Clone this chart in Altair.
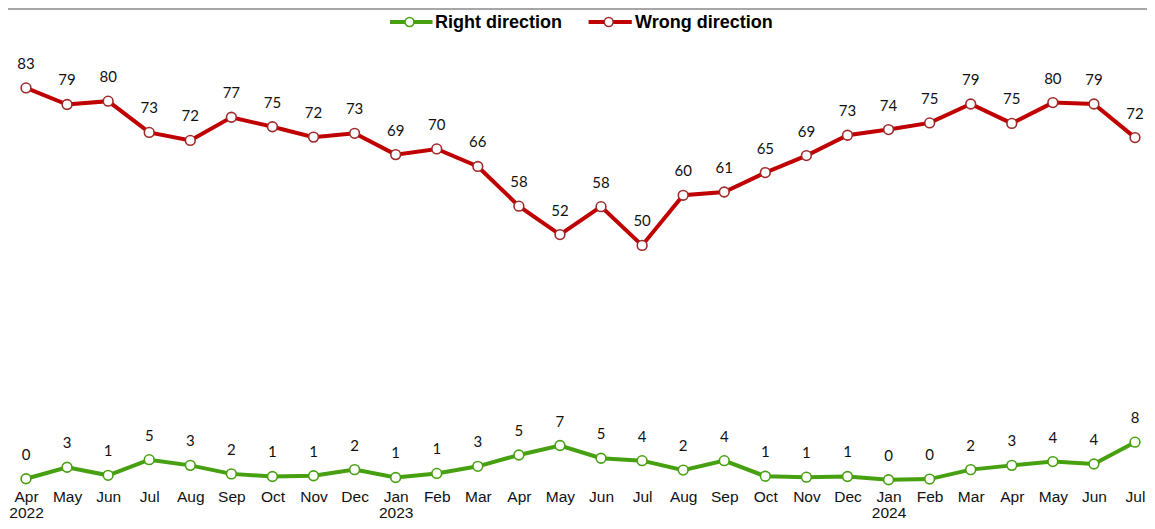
import json
import altair as alt
import pandas as pd

months = ["Apr", "May", "Jun", "Jul", "Aug", "Sep", "Oct", "Nov", "Dec",
          "Jan", "Feb", "Mar", "Apr", "May", "Jun", "Jul", "Aug", "Sep", "Oct", "Nov", "Dec",
          "Jan", "Feb", "Mar", "Apr", "May", "Jun", "Jul"]
years = ["2022", "", "", "", "", "", "", "", "",
         "2023", "", "", "", "", "", "", "", "", "", "", "",
         "2024", "", "", "", "", "", ""]

series_names = ["Right direction", "Wrong direction"]
series_colors = ["#47A010", "#C00000"]
marker_strokes = ["#47A010", "#9E2A2A"]

right = [0.47, 2.9, 1.2, 4.5, 3.3, 1.5, 0.95, 1.1, 2.4, 0.74, 1.6, 3.1, 5.5, 7.5,
         4.8, 4.3, 2.3, 4.3, 1.0, 0.8, 0.95, 0.25, 0.4, 2.4, 3.3, 4.1, 3.6, 8.2]
right_labels = [0, 3, 1, 5, 3, 2, 1, 1, 2, 1, 1, 3, 5, 7,
                5, 4, 2, 4, 1, 1, 1, 0, 0, 2, 3, 4, 4, 8]
wrong = [83.1, 79.6, 80.3, 73.7, 72.0, 76.9, 74.9, 72.7, 73.5, 69.0, 70.2, 66.5, 58.1, 52.1,
         58.0, 49.8, 60.4, 61.1, 65.2, 68.8, 73.1, 74.3, 75.7, 79.7, 75.6, 80.0, 79.7, 72.6]
wrong_labels = [83, 79, 80, 73, 72, 77, 75, 72, 73, 69, 70, 66, 58, 52,
                58, 50, 60, 61, 65, 69, 73, 74, 75, 79, 75, 80, 79, 72]

rows = []
for name, vals, labs in [(series_names[0], right, right_labels),
                         (series_names[1], wrong, wrong_labels)]:
    for i, (v, l) in enumerate(zip(vals, labs)):
        rows.append({"idx": i, "series": name, "value": v, "label": str(l)})
df = pd.DataFrame(rows)

W, H = 1139, 484

label_expr = f"[{json.dumps(months)}[datum.value], {json.dumps(years)}[datum.value]]"

x_enc = alt.X(
    "idx:Q",
    scale=alt.Scale(domain=[-0.4382, 27.292], nice=False, zero=False),
    axis=alt.Axis(
        values=list(range(len(months))), labelExpr=label_expr, title=None,
        grid=False, domain=False, ticks=False, labelFont="Liberation Sans",
        labelFontSize=15.5, labelColor="#111111", labelPadding=-3, labelBaseline="top",
        labelLineHeight=16, labelOverlap=False, labelFlush=False, labelBound=False,
        labelAlign="center",
    ),
)
y_enc = alt.Y("value:Q", scale=alt.Scale(domain=[-2.33, 100], nice=False, zero=False), axis=None)
color_enc = alt.Color("series:N", scale=alt.Scale(domain=series_names, range=series_colors), legend=None)
stroke_enc = alt.Stroke("series:N", scale=alt.Scale(domain=series_names, range=marker_strokes), legend=None)

base = alt.Chart(df)
lines = base.mark_line(strokeWidth=4).encode(x=x_enc, y=y_enc, color=color_enc, detail="series:N")
points = base.mark_point(filled=True, fill="white", size=95, strokeWidth=1.6, opacity=1).encode(
    x=x_enc, y=y_enc, stroke=stroke_enc)
texts = base.mark_text(font="Lato", fontSize=15, color="#111111", baseline="alphabetic", dy=-19).encode(
    x=x_enc, y=y_enc, text="label:N")

# top border line
top_rule = alt.Chart(pd.DataFrame({"a": [0]})).mark_rule(color="#A6A6A6", strokeWidth=2).encode(
    x=alt.value(0), x2=alt.value(W), y=alt.value(1))

# manual legend
legend_layers = []
legend_pos = [(382, 424.5, 401.5, 427), (580.6, 623.8, 600.7, 627)]
for name, col, mstroke, (lx1, lx2, cx, tx) in zip(series_names, series_colors, marker_strokes, legend_pos):
    ldf = pd.DataFrame({"series": [name]})
    legend_layers.append(alt.Chart(ldf).mark_rule(color=col, strokeWidth=4).encode(
        x=alt.value(lx1), x2=alt.value(lx2), y=alt.value(14)))
    legend_layers.append(alt.Chart(ldf).mark_point(filled=True, fill="white", stroke=mstroke,
                                                   size=80, strokeWidth=1.6, opacity=1).encode(
        x=alt.value(cx), y=alt.value(14)))
    legend_layers.append(alt.Chart(ldf).mark_text(font="Liberation Sans", fontSize=18, fontWeight="bold",
                                                  align="left", baseline="alphabetic", color="#000000").encode(
        x=alt.value(tx), y=alt.value(20), text="series:N"))

chart = alt.layer(top_rule, lines, points, texts, *legend_layers).properties(
    width=W, height=H,
    autosize=alt.AutoSizeParams(type="none"),
    padding={"left": 0, "top": 0, "right": 0, "bottom": 513 - H},
    background="white",
).configure_view(stroke=None)

chart.save("out.html", embed_options={"renderer": "svg", "actions": False})
